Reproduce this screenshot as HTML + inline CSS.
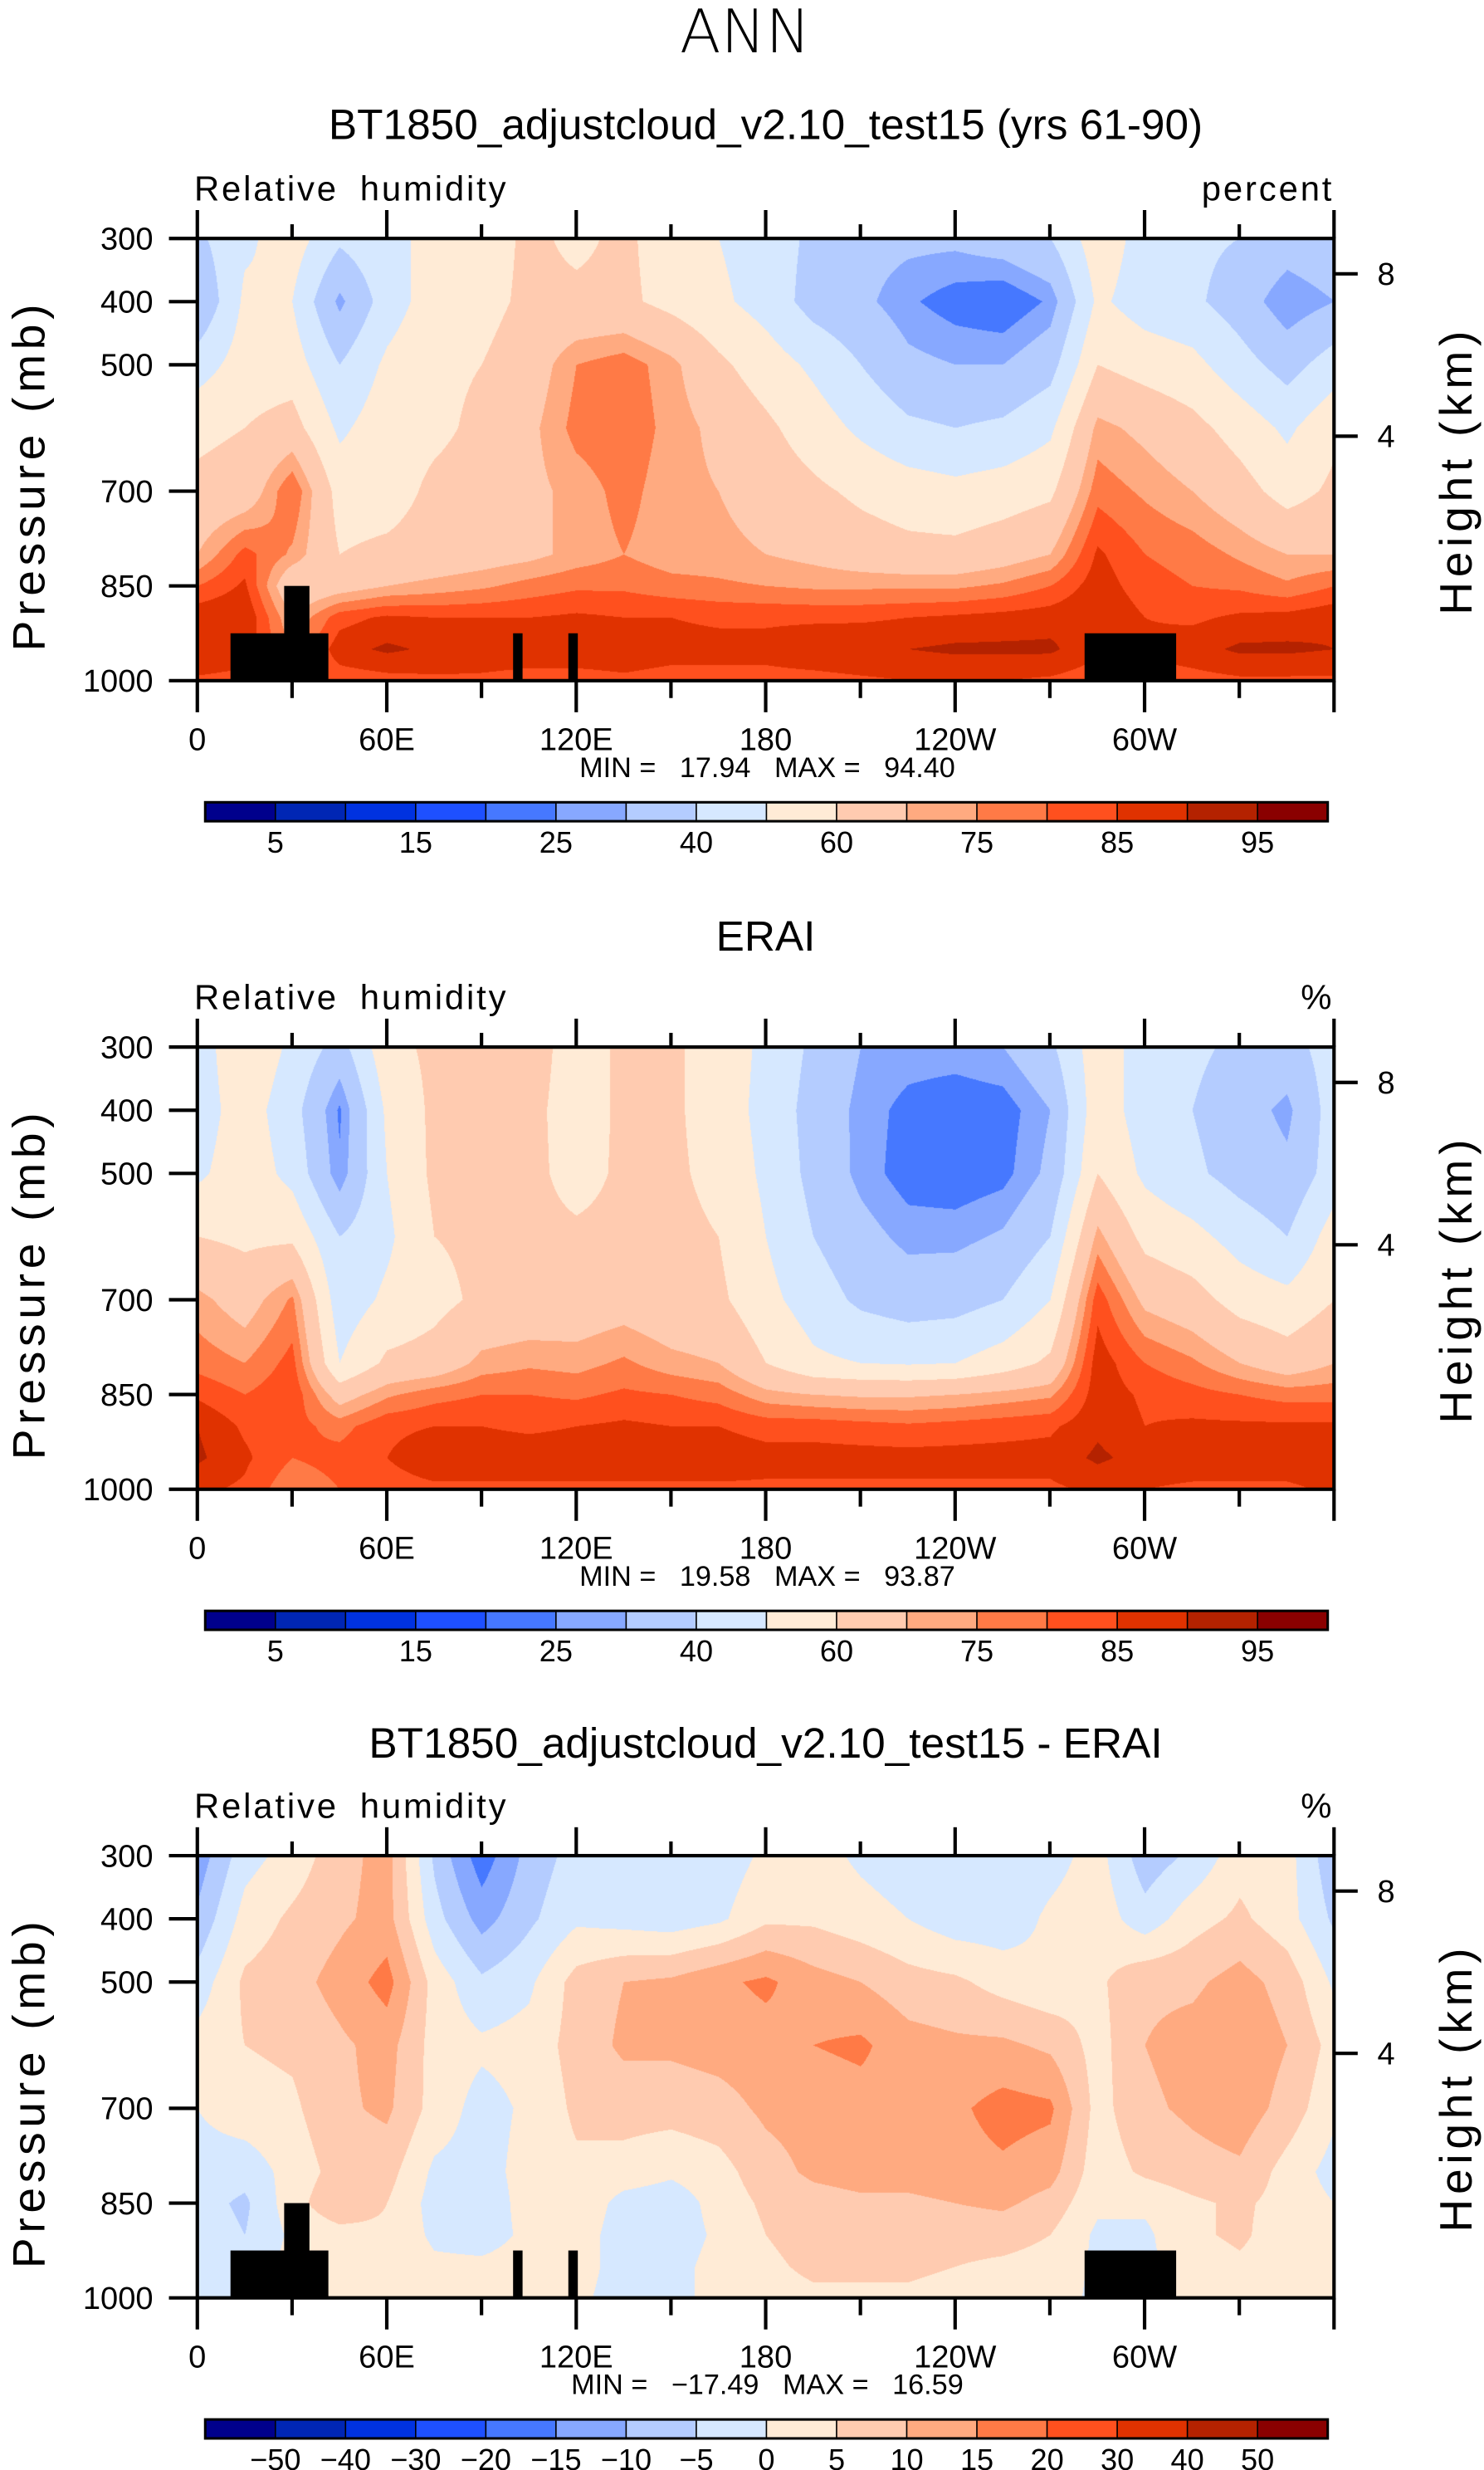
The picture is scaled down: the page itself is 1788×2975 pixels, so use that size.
<!DOCTYPE html>
<html><head><meta charset="utf-8">
<style>
html,body{margin:0;padding:0;background:#fff;}
#wrap{position:relative;width:1788px;height:2975px;overflow:hidden;background:#fff;}
canvas{position:absolute;}
svg{position:absolute;left:0;top:0;}
text{font-family:"Liberation Sans",sans-serif;fill:#000;}
</style></head>
<body>
<div id="wrap">
<canvas id="c0"></canvas>
<canvas id="c1"></canvas>
<canvas id="c2"></canvas>
<svg id="ov" width="1788" height="2975" viewBox="0 0 940 1564" preserveAspectRatio="none">
<text x="472" y="33" font-size="38" text-anchor="middle" style="font-family:'DejaVu Sans','Liberation Sans',sans-serif;font-weight:200">ANN</text>
<text x="485" y="88" font-size="27" text-anchor="middle">BT1850_adjustcloud_v2.10_test15 (yrs 61-90)</text>
<text x="485" y="602" font-size="27" text-anchor="middle">ERAI</text>
<text x="485" y="1113" font-size="27" text-anchor="middle">BT1850_adjustcloud_v2.10_test15 - ERAI</text>
</svg>
</div>
<script>
const lons=[0,15,30,45,60,75,90,105,120,135,150,165,180,195,210,225,240,255,270,285,300,315,330,345,360];
const plevs=[300,400,500,600,700,800,850,900,950,1000];
const rhModel=[
[38,48,55,42,48,52,55,62,58,62,55,50,45,38,33,32,32,35,40,56,46,42,40,35,38],
[30,52,50,28,45,55,57,62,62,62,57,52,46,36,32,26,22,20,26,52,45,42,35,25,30],
[45,55,55,40,52,58,60,65,75,78,72,62,55,48,40,32,30,30,36,60,56,53,44,36,45],
[58,60,64,48,56,58,62,68,77,79,73,68,62,55,48,42,40,42,48,72,68,63,56,48,58],
[62,64,80,56,56,62,64,68,72,77,72,70,66,62,58,55,53,55,58,78,74,70,64,56,62],
[70,82,74,60,62,64,66,68,72,75,72,72,70,68,65,63,63,66,70,86,80,78,74,70,70],
[80,86,62,66,70,72,74,77,79,79,77,76,75,74,74,74,74,76,80,88,82,80,79,76,80],
[89,90,70,83,86,85,85,85,86,85,85,84,84,84,84,85,86,87,88,90,85,84,86,87,89],
[90,88,75,88,91,89,88,88,88,88,87,87,87,89,90,90,91,91,91,86,86,88,91,91,90],
[84,83,80,82,83,84,84,83,83,84,83,83,83,83,84,85,85,85,84,82,82,83,84,84,84]];
const rhEra=[
[45,58,48,36,57,62,68,65,55,62,62,55,48,38,30,28,28,30,38,56,45,42,38,36,45],
[45,55,44,24,52,62,64,63,55,62,62,55,47,36,28,23,21,22,30,56,45,40,34,28,45],
[48,56,47,26,50,62,63,63,56,62,62,57,48,37,28,22,21,23,32,60,48,42,36,32,45],
[60,58,58,40,48,60,62,63,62,63,63,60,50,40,33,28,28,31,40,72,57,53,46,40,55],
[72,66,76,44,52,57,62,63,64,66,63,62,53,45,38,35,36,40,50,83,68,64,56,53,60],
[78,75,82,50,62,64,72,74,73,76,72,70,60,52,50,49,50,55,62,88,80,76,70,65,70],
[84,80,84,66,74,78,80,80,79,81,80,78,72,70,69,69,70,72,74,88,84,82,80,78,78],
[90,84,82,78,84,85,85,84,85,86,85,85,83,83,82,81,82,83,84,89,85,86,86,86,86],
[91,86,80,82,85,88,88,88,88,88,88,88,87,87,87,87,87,87,87,91,88,88,88,88,88],
[86,84,76,80,83,84,84,84,84,84,84,84,84,84,84,84,84,84,84,86,85,84,84,84,86]];
const rhDiff=[
[-13,-2,2,8,12,-6,-18,-8,-3,-3,-4,-3,1,2,-1,-3,-4,-4,-2,2,-8,-4,3,2,-9],
[-9,2,6,9,12,-3,-12,-6,-1,-2,-3,-1,4,4,2,0,-3,-3,1,3,-3,3,6,2,-6],
[-3,6,8,12,17,3,-4,-1,7,10,11,14,16,12,10,7,6,3,1,4,9,9,12,8,-1],
[2,5,6,9,12,3,1,2,7,11,11,12,13,15,16,12,11,11,9,3,10,12,14,10,3],
[0,3,4,9,11,3,-2,1,6,7,7,8,11,12,13,13,14,17,16,3,9,11,13,8,1],
[-2,-3,2,7,7,-1,-2,2,4,3,1,3,8,11,12,12,13,14,12,2,6,8,9,3,-2],
[-3,-6,3,9,5,-2,-3,2,4,-2,-3,2,6,8,9,9,10,11,8,1,1,4,6,3,0],
[-2,-5,1,3,4,-1,-2,1,3,-3,-3,1,5,7,7,7,7,7,5,-1,-1,4,6,2,0],
[-2,-4,2,3,4,1,1,2,2,-2,-2,2,4,6,6,6,5,4,3,-1,-1,2,4,2,0],
[-2,-3,2,3,3,2,2,2,1,-2,-2,2,3,4,4,4,3,3,2,-1,-1,2,3,1,0]];
const rhLevels=[5,10,15,20,25,30,40,50,60,70,75,80,85,90,95];
const rhLabels=["5","15","25","40","60","75","85","95"];
const diffLevels=[-50,-40,-30,-20,-15,-10,-5,0,5,10,15,20,30,40,50];
const palette=["#00008c","#0026b4","#0032e0","#1e50ff","#4678ff","#87a8ff","#b4ccff","#d6e8ff","#ffebd6","#ffcbb0","#ffaa80","#ff7a46","#ff501e","#e03200","#b42200","#8a0000"];
const pTicks=[300,400,500,700,850,1000];
const lonTicks=[0,60,120,180,240,300];
const lonTickLabels=["0","60E","120E","180","120W","60W"];
const hTicks=[8,4];
const hTickPress=[356,613];
const minVals=["17.94","19.58","\u221217.49"];
const maxVals=["94.40","93.87","16.59"];
const topoLon0=[10.5,27.5,100,117.5,281];
const topoLon1=[41.5,35.5,103,120.5,310];
const topoP=[925,850,925,925,925];

const S=1788/940;
const X0=125,X1=845,PH=280;
const tops=[151,663,1175];
const xLon=l=>X0+(l/360)*(X1-X0);
const yP=(p,t)=>t+(p-300)/700*PH;

function hex(c){return [parseInt(c.substr(1,2),16),parseInt(c.substr(3,2),16),parseInt(c.substr(5,2),16)];}
const pal=palette.map(hex);
function interp(grid,lon,p){
  let i=Math.min(lons.length-2,Math.floor(lon/15));let fx=(lon-lons[i])/15;
  let j=0;while(j<plevs.length-2&&p>plevs[j+1])j++;
  let fy=(p-plevs[j])/(plevs[j+1]-plevs[j]);
  const a=grid[j][i],b=grid[j][i+1],c=grid[j+1][i],d=grid[j+1][i+1];
  return (a*(1-fx)+b*fx)*(1-fy)+(c*(1-fx)+d*fx)*fy;
}
function drawField(id,grid,levels,t){
  const cv=document.getElementById(id);
  const L=Math.round(X0*S),T=Math.round(t*S),W=Math.round((X1-X0)*S),H=Math.round(PH*S);
  cv.style.left=L+"px";cv.style.top=T+"px";cv.width=W;cv.height=H;
  const ctx=cv.getContext("2d");const im=ctx.createImageData(W,H);
  for(let y=0;y<H;y++){const p=300+(y+0.5)/H*700;
    for(let x=0;x<W;x++){const lon=(x+0.5)/W*360;const v=interp(grid,lon,p);
      let k=0;while(k<levels.length&&v>=levels[k])k++;
      const c=pal[k];const o=(y*W+x)*4;im.data[o]=c[0];im.data[o+1]=c[1];im.data[o+2]=c[2];im.data[o+3]=255;}}
  ctx.putImageData(im,0,0);
}
drawField("c0",rhModel,rhLevels,tops[0]);
drawField("c1",rhEra,rhLevels,tops[1]);
drawField("c2",rhDiff,diffLevels,tops[2]);

const NS="http://www.w3.org/2000/svg";const svg=document.getElementById("ov");
function mk(tag,attrs,parent){const e=document.createElementNS(NS,tag);for(const k in attrs)e.setAttribute(k,attrs[k]);(parent||svg).appendChild(e);return e;}
function txt(s,x,y,size,anchor,parent){const e=mk("text",{x:x,y:y,"font-size":size,"text-anchor":anchor||"start"},parent);e.textContent=s;return e;}

const unitsTxt=["percent","%","%"];
for(let n=0;n<3;n++){
  const t=tops[n];const g=mk("g",{});
  
  
  const lt=txt("Relative humidity",123,t-24,22,"start",g);
  
  
  lt.setAttribute('letter-spacing','1.5');
  lt.setAttribute('word-spacing','6');
  const ut=txt(unitsTxt[n],845,t-24,22,"end",g);
  
  
  ut.setAttribute('letter-spacing','1.5');
  if(n===0||n===2){
    for(let k=0;k<topoLon0.length;k++){
      const r=mk("rect",{x:xLon(topoLon0[k]),y:yP(topoP[k],t),width:xLon(topoLon1[k])-xLon(topoLon0[k]),height:yP(1000,t)-yP(topoP[k],t),fill:"#000"},g);
      
      
    }
  }
  const fr=mk("rect",{x:X0,y:t,width:X1-X0,height:PH,fill:"none",stroke:"#000","stroke-width":2.2},g);
  
  
  for(let k=0;k<pTicks.length;k++){const y=yP(pTicks[k],t);
    mk("line",{x1:107,x2:X0,y1:y,y2:y,stroke:"#000","stroke-width":2.2},g);
    const tl=txt(String(pTicks[k]),97,y+7,20,"end",g);
    
    }
  for(let l=0;l<=360;l+=30){const x=xLon(l);const major=(l%60===0);
    mk("line",{x1:x,x2:x,y1:t,y2:t-(major?18:9),stroke:"#000","stroke-width":2.2},g);
    mk("line",{x1:x,x2:x,y1:t+PH,y2:t+PH+(major?20:11),stroke:"#000","stroke-width":2.2},g);}
  for(let k=0;k<lonTicks.length;k++){
    const tl=txt(lonTickLabels[k],xLon(lonTicks[k]),t+PH+44,20,"middle",g);
    
    }
  for(let k=0;k<hTicks.length;k++){const y=yP(hTickPress[k],t);
    mk("line",{x1:X1,x2:X1+15,y1:y,y2:y,stroke:"#000","stroke-width":2.2},g);
    const tl=txt(String(hTicks[k]),878,y+7,20,"middle",g);
    
    }
  const ya=txt("Pressure (mb)",0,0,29,"middle",g);
  ya.setAttribute("transform","translate(28,"+(t+PH/2+10)+") rotate(-90)");ya.setAttribute("letter-spacing","3");
  
  
  const ha=txt("Height (km)",0,0,29,"middle",g);
  ha.setAttribute("transform","translate(932,"+(t+PH/2+7)+") rotate(-90)");ha.setAttribute("letter-spacing","3");
  
  
  const mm=txt("MIN =   "+minVals[n]+"   MAX =   "+maxVals[n],486,t+PH+61,18,"middle",g);
  mm.setAttribute("xml:space","preserve");mm.style.whiteSpace="pre";
  
  
  const cy=t+357,cw=(841-130)/16;
  const cb=mk("g",{},g);
  
  
  for(let k=0;k<16;k++){const r=mk("rect",{x:130+k*cw,y:cy,width:cw,height:12,fill:palette[k],stroke:"#000","stroke-width":0.8},cb);
    
    }
  mk("rect",{x:130,y:cy,width:711,height:12,fill:"none",stroke:"#000","stroke-width":1.6},cb);
  if(n<2){for(let k=0;k<rhLabels.length;k++){const tl=txt(rhLabels[k],130+(2*k+1)*cw,cy+32,19,"middle",cb);
      
      }}
  else{for(let k=0;k<diffLevels.length;k++){const s=diffLevels[k]<0?"\u2212"+(-diffLevels[k]):String(diffLevels[k]);
      const tl=txt(s,130+(k+1)*cw,cy+32,19,"middle",cb);
      
      }}
}
</script>
</body></html>
